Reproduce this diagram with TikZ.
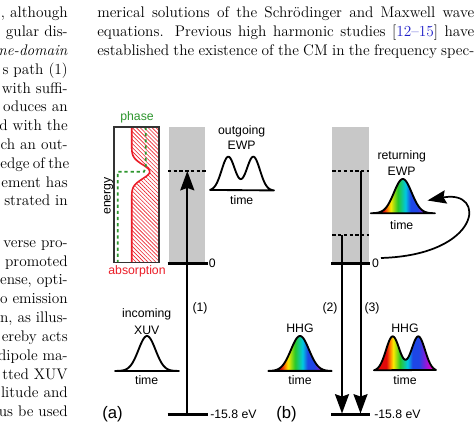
\documentclass[tikz,border=0pt]{standalone}
\usepackage{fontspec}
\newfontfamily\labfont{Liberation Sans}
\usetikzlibrary{arrows.meta,patterns.meta}
\definecolor{rbred}{RGB}{225,10,10}
\definecolor{rborange}{RGB}{255,130,0}
\definecolor{rbyellow}{RGB}{250,235,0}
\definecolor{rbgreen}{RGB}{40,200,40}
\definecolor{rbcyan}{RGB}{0,200,225}
\definecolor{rbblue}{RGB}{30,70,230}
\definecolor{rbviolet}{RGB}{130,30,220}
\definecolor{rbmagenta}{RGB}{225,0,200}
\definecolor{phasegreen}{RGB}{45,150,45}
\definecolor{absred}{RGB}{235,30,40}
\definecolor{bargray}{RGB}{200,200,200}
\definecolor{linkblue}{RGB}{30,30,200}
\pgfdeclarehorizontalshading{rainbow}{100bp}{color(0bp)=(rbred); color(25bp)=(rbred); color(35bp)=(rbred); color(38bp)=(rborange); color(40.5bp)=(rbyellow); color(46bp)=(rbgreen); color(52bp)=(rbcyan); color(56bp)=(rbblue); color(61bp)=(rbblue); color(66bp)=(rbviolet); color(71bp)=(rbmagenta); color(75bp)=(rbmagenta); color(100bp)=(rbmagenta)}
\tikzset{
  ptxt/.style={font=\fontsize{11.5}{14}\selectfont, inner sep=0, anchor=base east},
  ptxtr/.style={font=\fontsize{11.5}{14}\selectfont, inner sep=0, anchor=base west},
  lbl/.style={font=\labfont\fontsize{9.2}{11}\selectfont, inner sep=0, anchor=base},
  lblc/.style={font=\labfont\fontsize{9.2}{11}\selectfont, inner sep=0, anchor=center},
  panellbl/.style={font=\labfont\fontsize{12.5}{14}\selectfont, inner sep=0, anchor=center},
  bar/.style={fill=bargray, draw=none},
  level/.style={line width=2.25pt},
  dlevel/.style={line width=1.9pt, dash pattern=on 2.5pt off 1.8pt},
  varrow/.style={line width=1.5pt, -{Stealth[length=14.5pt, width=10.5pt, inset=1.8pt]}},
  carrow/.style={line width=1.3pt, -{Stealth[length=14pt, width=10pt, inset=1.8pt]}},
  pulse/.style={line width=1.4pt, line join=round},
}
\begin{document}
\begin{tikzpicture}[x=0.75pt,y=-0.75pt]
\useasboundingbox (0,0) rectangle (474,427);
\fill[white] (0,0) rectangle (474,427);
\clip (0,0) rectangle (474,427);

% ---------- paper text, left column ----------
\node[ptxt] (L1) at (68,18) {, although};
\node[ptxt] (L2) at (68,36.8) {gular dis-};
\node[ptxt] (L3) at (68,55.6) {\textit{ne-domain}};
\node[ptxt] (L4) at (68,74.4) {s path (1)};
\node[ptxt] (L5) at (68,93.2) {with suffi-};
\node[ptxt] (L6) at (68,112) {oduces an};
\node[ptxt] (L7) at (68,130.8) {d with the};
\node[ptxt] (L8) at (68,149.6) {ch an out-};
\node[ptxt] (L9) at (68,168.4) {\makebox[50.5pt][s]{edge of the}};
\node[ptxt] (L10) at (68,187.2) {ement has};
\node[ptxt] (L11) at (68,206) {strated in};
\node[ptxt] (L12) at (68,247.4) {verse pro-};
\node[ptxt] (L13) at (68,266.2) {promoted};
\node[ptxt] (L14) at (68,285) {ense, opti-};
\node[ptxt] (L15) at (68,303.8) {o emission};
\node[ptxt] (L16) at (68,322.6) {n, as illus-};
\node[ptxt] (L17) at (68,341.4) {ereby acts};
\node[ptxt] (L18) at (68,360.2) {dipole ma-};
\node[ptxt] (L19) at (68,379) {tted XUV};
\node[ptxt] (L20) at (68,397.8) {litude and};
\node[ptxt] (L21) at (68,416.6) {us be used};

% ---------- paper text, right column ----------
\node[ptxtr] (R1) at (97,18) {\makebox[282.75pt][s]{merical solutions of the Schrödinger and Maxwell wave}};
\node[ptxtr] (R2) at (97,36.8) {\makebox[282.75pt][s]{equations. Previous high harmonic studies [\textcolor{linkblue}{12--15}] have}};
\node[ptxtr] (R3) at (97,55.6) {\makebox[282.75pt][s]{established the existence of the CM in the frequency spec-}};

% ---------- panel (a): absorption / phase box ----------
\fill[pattern={Lines[angle=-45,distance=2.1pt,line width=0.45pt]}, pattern color=absred]
  (159,127) -- (131.7,127) -- (131.7,146)
  -- plot[domain=146:197.4, samples=50] ({131.7+18*exp(-(((\x-171.7)/10)^2))},\x)
  -- (131.7,262.7) -- (159,262.7) -- cycle;
\draw[absred, line width=1.2pt] (131.7,127) -- (131.7,146)
  -- plot[domain=146:197.4, samples=50] ({131.7+18*exp(-(((\x-171.7)/10)^2))},\x)
  -- (131.7,262.7);
\draw[phasegreen, line width=1.3pt, dash pattern=on 2.4pt off 2.2pt]
  (145.7,127) -- (145.7,167) -- (144,171.7) -- (117.7,171.7) -- (117.7,262.7);
\draw[black!80, line width=0.8pt] (114,127) rectangle (159,262.7);
\node[lbl, text=phasegreen] (phase) at (137,121) {phase};
\node[lbl, text=absred] (absorption) at (137,275) {absorption};
\node[lbl, rotate=90] (energy) at (110.5,196) {energy};

% ---------- panel (a): levels ----------
\fill[bar] (169,127) rectangle (205.3,263.3);
\coordinate (aTopL) at (168,171);
\coordinate (aTopR) at (206.5,171);
\coordinate (aZeroL) at (167.5,263.5);
\coordinate (aZeroR) at (207.5,263.5);
\coordinate (aBotL) at (167.5,414.3);
\coordinate (aBotR) at (207.5,414.3);
\draw[dlevel] (aTopL) -- (aTopR);
\draw[level] (aZeroL) -- (aZeroR);
\draw[level] (aBotL) -- (aBotR);
\coordinate (a1s) at (187.3,414.3);
\coordinate (a1e) at (187.3,171);
\draw[varrow] (a1s) -- (a1e);
\node[lblc] (a0) at (212.3,263.7) {0};
\node[lblc, anchor=west] (aE) at (210,414.3) {-15.8 eV};
\node[lblc] (p1) at (200,308) {(1)};
\node[panellbl] (pa) at (112.5,414) {(a)};

% incoming XUV
\node[lbl] (inc) at (146.7,317) {incoming};
\node[lbl] (xuv) at (146.7,334) {XUV};
\draw[pulse] plot[domain=115:179, samples=70] (\x,{371-35*exp(-(((\x-147)/12)^2))}) -- cycle;
\node[lbl] (tinc) at (146.7,384) {time};

% outgoing EWP
\node[lbl] (outg) at (241.7,135) {outgoing};
\node[lbl] (ewpo) at (241.7,149.3) {EWP};
\draw[pulse] plot[domain=210:274, samples=90] (\x,{190.7-34*(exp(-(((\x-228.3)/9.4)^2))+exp(-(((\x-253.3)/9.4)^2)))}) -- cycle;
\node[lbl] (tout) at (241.7,205) {time};

% ---------- panel (b): levels ----------
\fill[bar] (332.3,127) rectangle (369,263.3);
\coordinate (bTopL) at (332.3,171);
\coordinate (bTopR) at (369,171);
\coordinate (bMidL) at (332.3,235);
\coordinate (bMidR) at (369,235);
\coordinate (bZeroL) at (331,263.5);
\coordinate (bZeroR) at (370,263.5);
\coordinate (bBotL) at (331,414.3);
\coordinate (bBotR) at (370,414.3);
\draw[dlevel] (bTopL) -- (bTopR);
\draw[dlevel] (bMidL) -- (bMidR);
\draw[level] (bZeroL) -- (bZeroR);
\draw[level] (bBotL) -- (bBotR);
\coordinate (b2s) at (342,235);
\coordinate (b2e) at (342,413.5);
\coordinate (b3s) at (360.5,171);
\coordinate (b3e) at (360.5,413.5);
\draw[varrow] (b2s) -- (b2e);
\draw[varrow] (b3s) -- (b3e);
\node[lblc] (b0) at (375.5,263.7) {0};
\node[lblc, anchor=west] (bE) at (374,414.3) {-15.8 eV};
\node[lblc] (p2) at (330,308) {(2)};
\node[lblc] (p3) at (372,308) {(3)};
\node[panellbl] (pb) at (286.5,414) {(b)};

% returning EWP
\node[lbl] (ret) at (401.7,159.3) {returning};
\node[lbl] (ewpr) at (401.7,176) {EWP};
\shade[shading=rainbow] plot[domain=370.7:435, samples=70] (\x,{213.3-34.3*exp(-(((\x-402.8)/12.5)^2))}) -- cycle;
\draw[pulse] plot[domain=370.7:435, samples=70] (\x,{213.3-34.3*exp(-(((\x-402.8)/12.5)^2))}) -- cycle;
\node[lbl] (tret) at (401.7,229.3) {time};

% curved arrow from 0 level to returning EWP
\coordinate (cs) at (381,258);
\coordinate (ce) at (427.5,200.5);
\draw[carrow] (cs) .. controls (482,255) and (487,189) .. (ce);

% HHG single
\node[lbl] (hhg1) at (300,332.7) {HHG};
\shade[shading=rainbow] plot[domain=268.3:331.7, samples=70] (\x,{371-35*exp(-(((\x-300)/12.8)^2))}) -- cycle;
\draw[pulse] plot[domain=268.3:331.7, samples=70] (\x,{371-35*exp(-(((\x-300)/12.8)^2))}) -- cycle;
\node[lbl] (th1) at (300,384) {time};

% HHG double
\node[lbl] (hhg2) at (405,332.7) {HHG};
\shade[shading=rainbow] plot[domain=374:436, samples=90] (\x,{371-34.6*(exp(-(((\x-392.7)/9.5)^2))+exp(-(((\x-418.3)/9.5)^2)))}) -- cycle;
\draw[pulse] plot[domain=374:436, samples=90] (\x,{371-34.6*(exp(-(((\x-392.7)/9.5)^2))+exp(-(((\x-418.3)/9.5)^2)))}) -- cycle;
\node[lbl] (th2) at (405,384) {time};
\end{tikzpicture}
\end{document}
